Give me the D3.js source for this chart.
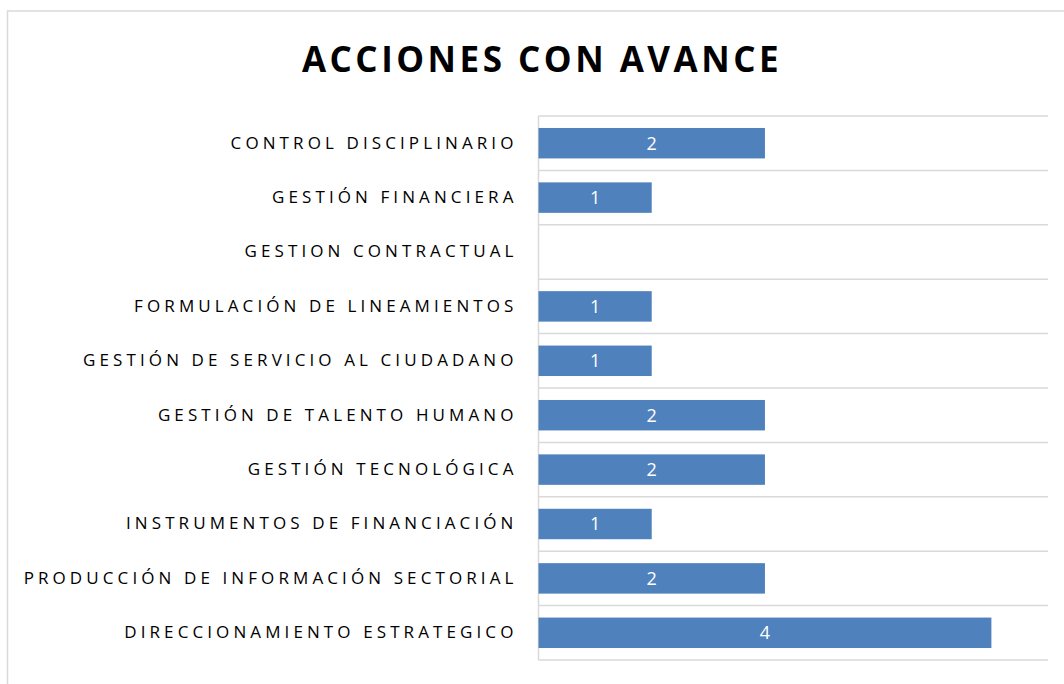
<!DOCTYPE html>
<html>
<head>
<meta charset="utf-8">
<script src="https://cdn.jsdelivr.net/npm/d3@7"></script>
<style>
  body { margin: 0; background: #fff; }
  svg { display: block; }
</style>
</head>
<body>
<div id="chart"></div>
<script>
const WIDTH = 1064;
const HEIGHT = 684;

const categories = [
    "CONTROL DISCIPLINARIO",
    "GESTIÓN FINANCIERA",
    "GESTION CONTRACTUAL",
    "FORMULACIÓN DE LINEAMIENTOS",
    "GESTIÓN DE SERVICIO AL CIUDADANO",
    "GESTIÓN DE TALENTO HUMANO",
    "GESTIÓN TECNOLÓGICA",
    "INSTRUMENTOS DE FINANCIACIÓN",
    "PRODUCCIÓN DE INFORMACIÓN SECTORIAL",
    "DIRECCIONAMIENTO ESTRATEGICO"
];
const values = [2, 1, 0, 1, 1, 2, 2, 1, 2, 4];
const title = "ACCIONES CON AVANCE";

const plot = { left: 538.5, right: 1048, top: 116, bottom: 660 };

var svg = d3.select("#chart")
    .append("svg")
    .attr("width", WIDTH)
    .attr("height", HEIGHT);

// outer chart border
svg.append("rect")
    .attr("x", 7.5)
    .attr("y", 11)
    .attr("width", WIDTH)
    .attr("height", HEIGHT)
    .attr("fill", "none")
    .attr("stroke", "#d9d9d9")
    .attr("stroke-width", 1.5);

svg.append("text")
    .attr("x", 542)
    .attr("y", 72)
    .attr("text-anchor", "middle")
    .style("font-family", "'Open Sans', sans-serif")
    .style("font-weight", "bold")
    .style("font-size", "35px")
    .style("letter-spacing", "3.5px")
    .style("fill", "#000")
    .text(title);

var x_scale = d3.scaleLinear()
    .domain([0, 4.5])
    .range([plot.left, plot.right]);

var y_scale = d3.scaleBand()
    .domain(categories)
    .range([plot.top, plot.bottom])
    .paddingInner(0.44)
    .paddingOuter(0.22);

// category gridlines (band boundaries)
var step = y_scale.step();
var gridYs = d3.range(categories.length + 1).map(i => plot.top + i * step);
svg.append("g")
    .selectAll("line")
    .data(gridYs)
    .enter()
    .append("line")
    .attr("x1", plot.left)
    .attr("x2", plot.right)
    .attr("y1", d => d)
    .attr("y2", d => d)
    .attr("stroke", "#d9d9d9")
    .attr("stroke-width", 1.5);

// vertical axis line
svg.append("line")
    .attr("x1", plot.left)
    .attr("x2", plot.left)
    .attr("y1", plot.top)
    .attr("y2", plot.bottom)
    .attr("stroke", "#d9d9d9")
    .attr("stroke-width", 1.5);

svg.append("g")
    .selectAll("rect")
    .data(values)
    .enter()
    .append("rect")
    .attr("x", x_scale(0))
    .attr("y", (d, i) => y_scale(categories[i]))
    .attr("width", d => x_scale(d) - x_scale(0))
    .attr("height", y_scale.bandwidth())
    .attr("fill", "#4f81bd");

svg.append("g")
    .selectAll("text")
    .data(values.map((v, i) => ({ v: v, c: categories[i] })).filter(d => d.v > 0))
    .enter()
    .append("text")
    .attr("x", d => (x_scale(0) + x_scale(d.v)) / 2)
    .attr("y", d => y_scale(d.c) + y_scale.bandwidth() / 2)
    .attr("dy", "0.35em")
    .attr("text-anchor", "middle")
    .style("font-family", "'Open Sans', sans-serif")
    .style("font-size", "18px")
    .style("fill", "#fff")
    .text(d => d.v);

// category labels
var yAxis = d3.axisLeft(y_scale).tickSize(0).tickPadding(21);
var axisG = svg.append("g")
    .attr("transform", "translate(" + plot.left + ",0)")
    .call(yAxis);
axisG.select(".domain").remove();
axisG.selectAll("text")
    .style("font-family", "'Open Sans', sans-serif")
    .style("font-size", "17px")
    .style("letter-spacing", "4.1px")
    .style("fill", "#000");
</script>
</body>
</html>
